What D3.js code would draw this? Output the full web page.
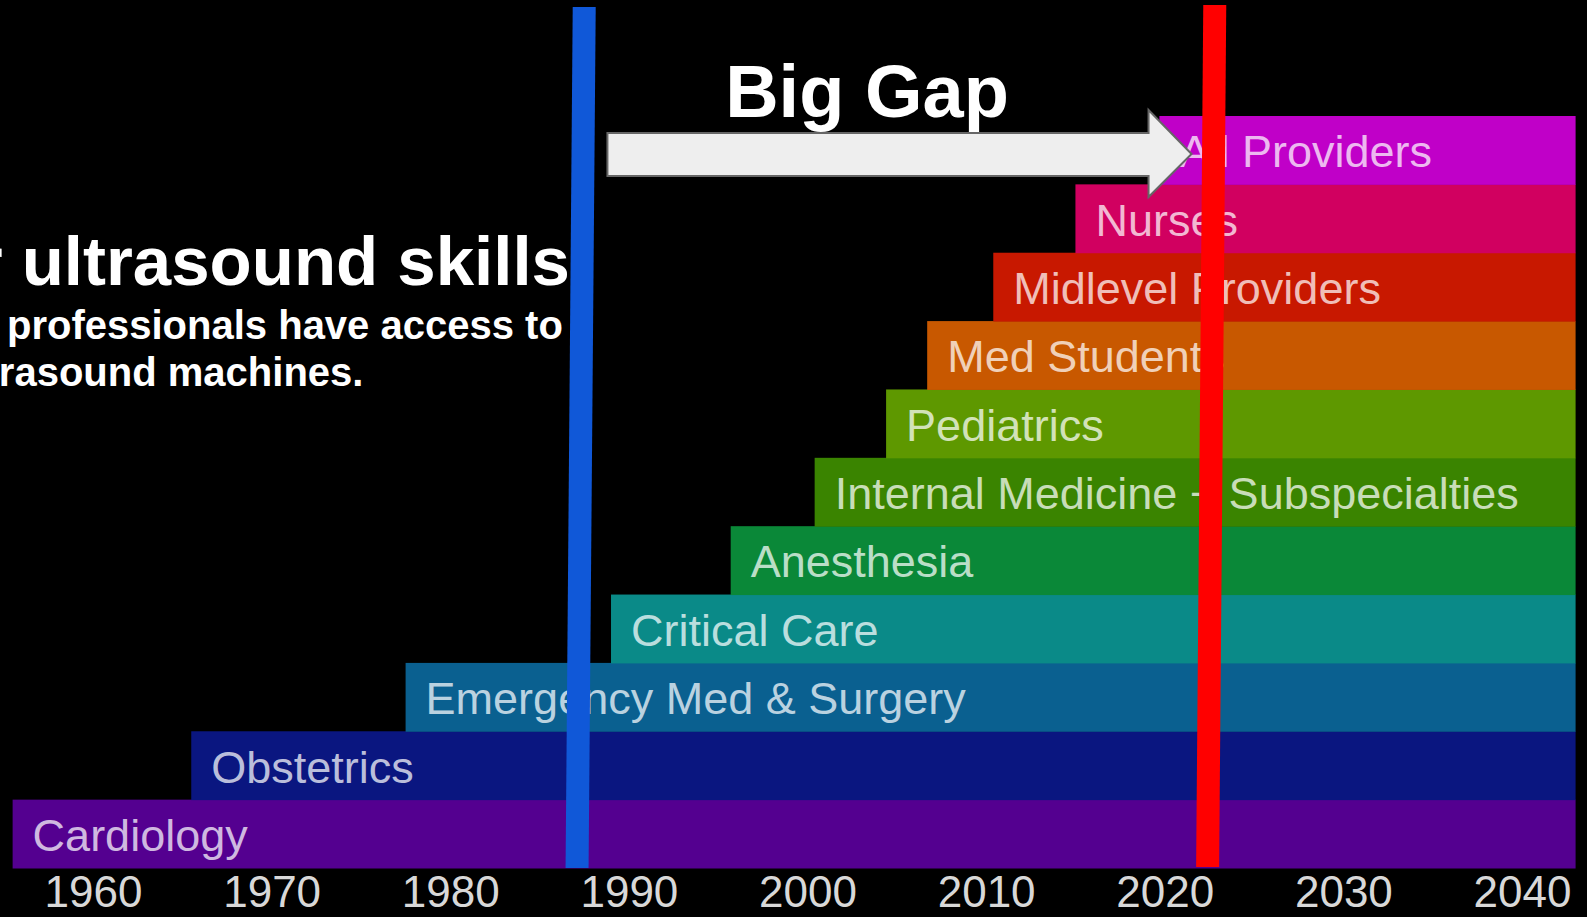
<!DOCTYPE html>
<html>
<head>
<meta charset="utf-8">
<script src="https://cdn.jsdelivr.net/npm/d3@7"></script>
<style>
  html, body { margin: 0; padding: 0; background: #000; overflow: hidden; }
  text { font-family: "Liberation Sans", Arial, Helvetica, sans-serif; }
</style>
</head>
<body>
<div id="chart"></div>
<script>
// data: who learned ultrasound, and from when (bottom row first)
const specialties = ["Cardiology", "Obstetrics", "Emergency Med & Surgery", "Critical Care", "Anesthesia",
    "Internal Medicine + Subspecialties", "Pediatrics", "Med Students", "Midlevel Providers", "Nurses", "All Providers"];
const startYears = [1955.5, 1965.5, 1977.5, 1989, 1995.7, 2000.4, 2004.4, 2006.7, 2010.4, 2015, 2019.7];
const endYear = 2043;
const bandColors = ["#540090", "#0a1680", "#0a6090", "#0a8a88", "#0a8838", "#3a8400",
    "#5e9800", "#c85800", "#c81800", "#d10060", "#c000c8"];
const tickYears = [1960, 1970, 1980, 1990, 2000, 2010, 2020, 2030, 2040];

// gap markers (year at top, year at bottom - the lines lean a little)
const blueLine = [1987.5, 1987.1];
const redLine = [2022.8, 2022.4];
const arrowYears = [1988.8, 2021.5];

// set dimensions
const width = 1587,
    height = 917;

const svg = d3.select("#chart")
    .append("svg")
    .attr("width", width)
    .attr("height", height)
    .style("background", "#000");

// scales
const xScale = d3.scaleLinear()
    .domain([1960, 2040])
    .range([93, 1522]);

const yScale = d3.scaleBand()
    .domain(specialties.slice().reverse())
    .range([116, 868])
    .padding(0);

// bars
const rows = specialties.map((s, i) => ({ name: s, start: startYears[i], color: bandColors[i] }));

svg.append("g")
    .selectAll("rect")
    .data(rows)
    .enter()
    .append("rect")
    .attr("x", d => xScale(d.start))
    .attr("y", d => yScale(d.name))
    .attr("width", d => xScale(endYear) - xScale(d.start))
    .attr("height", yScale.bandwidth() + 0.5)
    .attr("fill", d => d.color);

// bar labels
svg.append("g")
    .selectAll("text")
    .data(rows)
    .enter()
    .append("text")
    .attr("x", d => xScale(d.start) + 20)
    .attr("y", d => yScale(d.name) + yScale.bandwidth() / 2)
    .attr("dy", "0.38em")
    .style("font-size", "45px")
    .attr("fill", d => d3.interpolateRgb(d.color, "#ffffff")(0.72))
    .text(d => d.name);

// x axis
const xAxis = d3.axisBottom(xScale)
    .tickValues(tickYears)
    .tickFormat(d3.format("d"))
    .tickSize(0)
    .tickPadding(8);

const axisG = svg.append("g")
    .attr("transform", "translate(0,868)")
    .call(xAxis);
axisG.select(".domain").remove();
axisG.selectAll("text")
    .style("font-size", "44px")
    .style("font-family", "'Liberation Sans', Arial, sans-serif")
    .attr("fill", "#d8d8d8");

// arrow between the two lines
const tail = xScale(arrowYears[0]),
    tip = xScale(arrowYears[1]),
    headBase = tip - 43;
svg.append("path")
    .attr("d", `M${tail},133 L${headBase},133 L${headBase},110 L${tip},154 L${headBase},197 L${headBase},176 L${tail},176 Z`)
    .attr("fill", "#eeeeee")
    .attr("stroke", "#666")
    .attr("stroke-width", 2);

// blue and red lines
[[blueLine, "#1058d8", 7, 868], [redLine, "#ff0000", 5, 867]].forEach(([yrs, col, y1, y2]) => {
    svg.append("line")
        .attr("x1", xScale(yrs[0]))
        .attr("y1", y1)
        .attr("x2", xScale(yrs[1]))
        .attr("y2", y2)
        .attr("stroke", col)
        .attr("stroke-width", 23);
});

// title texts
svg.append("text")
    .attr("x", 867)
    .attr("y", 117)
    .attr("text-anchor", "middle")
    .attr("fill", "#fff")
    .style("font-size", "74px")
    .style("font-weight", "bold")
    .text("Big Gap");

svg.append("text")
    .attr("x", 570)
    .attr("y", 285)
    .attr("text-anchor", "end")
    .attr("fill", "#fff")
    .style("font-size", "69px")
    .style("font-weight", "bold")
    .text("Your ultrasound skills");

svg.append("text")
    .attr("x", 7)
    .attr("y", 339)
    .attr("fill", "#fff")
    .style("font-size", "40px")
    .style("font-weight", "bold")
    .text("professionals have access to");

svg.append("text")
    .attr("x", -50)
    .attr("y", 386)
    .attr("fill", "#fff")
    .style("font-size", "40px")
    .style("font-weight", "bold")
    .text("ultrasound machines.");
</script>
</body>
</html>
